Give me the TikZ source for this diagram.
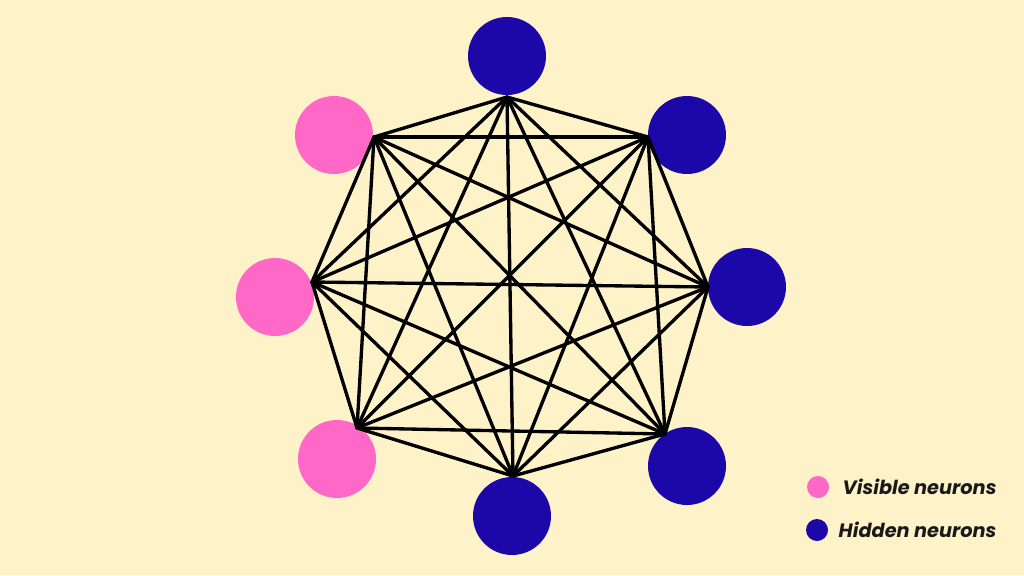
\documentclass[tikz,border=0pt]{standalone}
\usepackage{xcolor}
\usepackage{fontspec}
\setsansfont{Poppins}
\usetikzlibrary{positioning}

\definecolor{cream}{RGB}{254,242,200}
\definecolor{vispink}{RGB}{255,104,198}
\definecolor{hidblue}{RGB}{28,8,168}

\tikzset{
  neuron/.style = {circle, inner sep=0pt, minimum size=1.56cm},
  visible/.style = {neuron, fill=vispink},
  hidden/.style = {neuron, fill=hidblue},
  link/.style = {line width=1.9pt, line cap=round, black},
  keytext/.style = {inner sep=0pt, font=\sffamily\bfseries\itshape\fontsize{11}{13}\selectfont, text=black!90},
}

\begin{document}
\begin{tikzpicture}[x=0.02cm, y=-0.02cm]

    \fill[cream] (0,0) rectangle (1024,575);
    \useasboundingbox (0,0) rectangle (1024,575);

      % neurons
      \node[hidden] (n1) at (507,56) {};
      \node[hidden] (n2) at (687,135) {};
      \node[hidden] (n3) at (747,287) {};
      \node[hidden] (n4) at (687,466) {};
      \node[hidden] (n5) at (512,516) {};
      \node[visible] (n6) at (337,459) {};
      \node[visible] (n7) at (275,297) {};
      \node[visible] (n8) at (334,135) {};

      % contact points of the links
      \coordinate (h1) at (507,97);
      \coordinate (h2) at (648,137);
      \coordinate (h3) at (708,287);
      \coordinate (h4) at (665,434);
      \coordinate (h5) at (513,476);
      \coordinate (h6) at (357,428);
      \coordinate (h7) at (312,282);
      \coordinate (h8) at (374,137);

      \foreach \i in {1,...,8} {
        \foreach \j in {1,...,8} {
          \ifnum\i<\j
            \draw[link] (h\i) -- (h\j);
          \fi
        }
      }

      % legend
      \node[visible, minimum size=0.44cm] (keyvis) at (818,487) {};
      \node[hidden, minimum size=0.44cm] (keyhid) at (817,530) {};
      \node[keytext, right = 0.26cm of keyvis] (labvis) {Visible neurons};
      \node[keytext, right = 0.2cm of keyhid] (labhid) {Hidden neurons};

\end{tikzpicture}
\end{document}
